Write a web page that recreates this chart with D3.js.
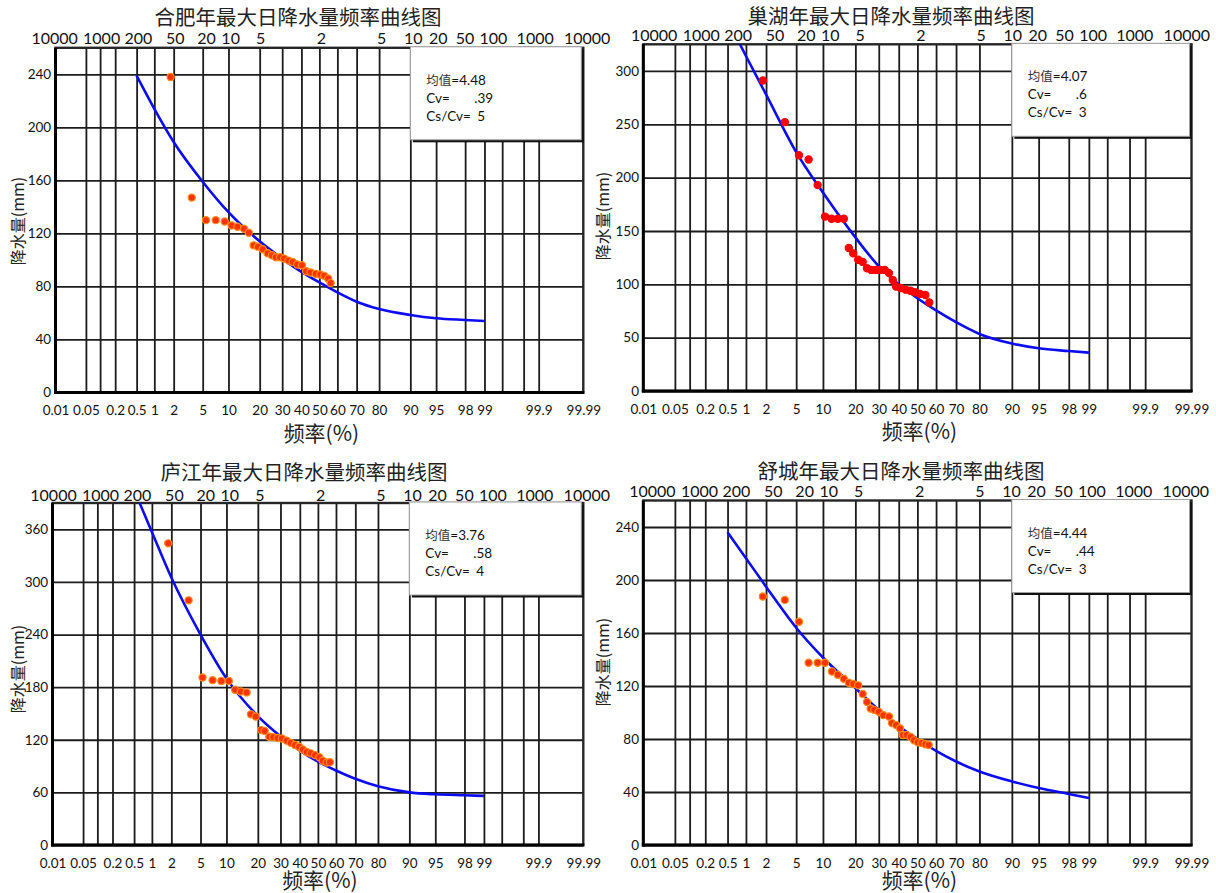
<!DOCTYPE html>
<html>
<head>
<meta charset="utf-8">
<style>
  body { margin: 0; background: #fff; }
  svg { display: block; }
</style>
</head>
<body>
<svg id="chart" width="1216" height="893"></svg>
<script src="https://d3js.org/d3.v7.min.js"></script>
<script>
// ---- axis definitions (probability paper) ----
var gridProbs = [0.05, 0.1, 0.2, 0.5, 1, 2, 5, 10, 20, 30, 40, 50, 60, 70, 80, 90, 95, 98, 99, 99.5, 99.8, 99.9];
var bottomProbs = [0.01, 0.05, 0.2, 0.5, 1, 2, 5, 10, 20, 30, 40, 50, 60, 70, 80, 90, 95, 98, 99, 99.9, 99.99];
var bottomLabels = ["0.01", "0.05", "0.2", "0.5", "1", "2", "5", "10", "20", "30", "40", "50", "60", "70", "80", "90", "95", "98", "99", "99.9", "99.99"];
var topProbs = [0.01, 0.1, 0.5, 2, 5, 10, 20, 50, 80, 90, 95, 98, 99, 99.9, 99.99];
var topLabels = ["10000", "1000", "200", "50", "20", "10", "5", "2", "5", "10", "20", "50", "100", "1000", "10000"];

// ---- 合肥 ----
var hefeiTitle = "合肥年最大日降水量频率曲线图";
var hefeiTicks = [0, 40, 80, 120, 160, 200, 240];
var hefeiStats = ["4.48", ".39", "5"];
var hefeiPointP = [1.8, 3.6, 5.5, 7.2, 9.1, 10.8, 12.4, 14.4, 16.0, 17.7, 19.3, 21.2, 23.3, 25.2, 27.0, 29.0, 31.0, 33.2, 35.3, 37.7, 40.3, 42.6, 45.1, 48.0, 50.5, 52.7, 54.9, 56.3];
var hefeiPointV = [238, 147, 130, 130, 129, 126, 125, 123.5, 120.5, 111, 110, 108, 105, 103.5, 102, 102, 101, 99.5, 98.5, 96.5, 96, 91.5, 90.5, 89.5, 89, 88, 86, 82.5];
var hefeiCurveP = [0.5, 1, 2, 5, 10, 20, 30, 40, 50, 60, 70, 80, 90, 95, 98, 99];
var hefeiCurveV = [239, 214, 189, 159, 136, 114, 101, 91, 83, 75.5, 68.5, 63, 58.5, 56, 54.7, 53.9];

// ---- 巢湖 ----
var chaohuTitle = "巢湖年最大日降水量频率曲线图";
var chaohuTicks = [0, 50, 100, 150, 200, 250, 300];
var chaohuStats = ["4.07", ".6", "3"];
var chaohuPointP = [1.8, 3.6, 5.4, 7.0, 8.8, 10.5, 12.2, 14.0, 15.9, 17.6, 19.2, 21.1, 22.9, 24.7, 26.6, 28.6, 30.7, 32.9, 35.0, 36.9, 38.6, 41.0, 43.7, 46.2, 48.7, 51.4, 54.3, 56.4];
var chaohuPointV = [291, 252, 221, 217, 193, 163.5, 161.5, 161.5, 161.5, 134, 129, 123, 121, 115, 113.5, 113.5, 113.5, 113.5, 110.5, 104, 98, 96.5, 95, 94, 92.5, 91, 90, 83];
var chaohuCurveP = [0.5, 1, 2, 5, 10, 20, 30, 40, 50, 60, 70, 80, 90, 95, 98, 99];
var chaohuCurveV = [348, 314, 278, 224, 186, 144, 117, 100, 87, 75.5, 64.5, 53.5, 44.5, 40, 37.5, 36];

// ---- 庐江 ----
var lujiangTitle = "庐江年最大日降水量频率曲线图";
var lujiangTicks = [0, 60, 120, 180, 240, 300, 360];
var lujiangStats = ["3.76", ".58", "4"];
var lujiangPointP = [1.8, 3.5, 5.3, 7.0, 8.8, 10.6, 12.3, 14.0, 15.9, 17.4, 19.2, 21.3, 22.8, 24.8, 26.6, 28.6, 30.7, 33.1, 35.2, 37.4, 39.6, 41.6, 43.8, 46.0, 48.4, 50.8, 52.7, 54.9, 56.7];
var lujiangPointV = [344, 279, 191, 188, 187, 187, 177, 175, 174, 149, 146.5, 131, 130, 123.5, 123, 122, 121.5, 119, 116.5, 114, 112, 109, 106, 104.5, 102.5, 100, 96, 94, 94.5];
var lujiangCurveP = [0.5, 1, 2, 5, 10, 20, 30, 40, 50, 60, 70, 80, 90, 95, 98, 99];
var lujiangCurveV = [405, 357, 305, 240, 190, 147, 124, 107.5, 95, 85, 75.5, 67, 60, 57.8, 56.7, 56];

// ---- 舒城 ----
var shuchengTitle = "舒城年最大日降水量频率曲线图";
var shuchengTicks = [0, 40, 80, 120, 160, 200, 240];
var shuchengStats = ["4.44", ".44", "3"];
var shuchengPointP = [1.8, 3.6, 5.4, 7.0, 8.8, 10.5, 12.3, 14.0, 15.9, 17.6, 19.2, 21.1, 22.9, 24.7, 26.3, 27.9, 30.0, 32.2, 35.0, 36.5, 38.6, 40.7, 42.1, 44.2, 46.4, 48.2, 50.2, 52.3, 54.3, 56.1];
var shuchengPointV = [187.5, 185, 168.5, 137.5, 137.5, 137.5, 131, 128.5, 125.5, 122.5, 121.5, 120.5, 114, 108, 103, 102, 100.5, 98, 97, 92, 90.5, 88, 83, 83, 81.5, 79, 77.5, 77, 76, 75.5];
var shuchengCurveP = [0.5, 1, 2, 5, 10, 20, 30, 40, 50, 60, 70, 80, 90, 95, 98, 99];
var shuchengCurveV = [236, 216.5, 195, 164, 141.5, 118.5, 102, 89.5, 80, 71, 63, 55.5, 48, 43, 38.5, 35.5];

// layout of the four plots (pixels); top labels sit on their own, slightly narrower strip
var topLabelNudge = [0, 2, 2, 1.5, 3.5, 1.5, 0, 0.5, 0.5, 0.5, -0.5, -3, 6, -7, 0];
var panels = [
  { id: 1, title: hefeiTitle, ticks: hefeiTicks, yMax: 260, stats: hefeiStats,
    pointP: hefeiPointP, pointV: hefeiPointV, curveP: hefeiCurveP, curveV: hefeiCurveV,
    left: 55.5, right: 583.3, top: 47.8, bottom: 392.5, topL: 54.1, topR: 586.7, topY: 43.5,
    titleX: 298, titleY: 25.2, xTitleY: 440.5, yTitleX: 23.5, yTitleY: 221,
    dot: "#ff3300", dotRim: "#ff8a1c" },
  { id: 2, title: chaohuTitle, ticks: chaohuTicks, yMax: 325, stats: chaohuStats,
    pointP: chaohuPointP, pointV: chaohuPointV, curveP: chaohuCurveP, curveV: chaohuCurveV,
    left: 643.3, right: 1191.5, top: 44.3, bottom: 391, topL: 653.7, topR: 1186.3, topY: 40.7,
    titleX: 891, titleY: 23.5, xTitleY: 438.5, yTitleX: 609, yTitleY: 216,
    dot: "#ff0000", dotRim: "#ff0000" },
  { id: 3, title: lujiangTitle, ticks: lujiangTicks, yMax: 390, stats: lujiangStats,
    pointP: lujiangPointP, pointV: lujiangPointV, curveP: lujiangCurveP, curveV: lujiangCurveV,
    left: 52.5, right: 583.3, top: 503, bottom: 845, topL: 53, topR: 586.3, topY: 500.5,
    titleX: 304, titleY: 480, xTitleY: 887.5, yTitleX: 23.5, yTitleY: 669,
    dot: "#ff3300", dotRim: "#ff8a1c" },
  { id: 4, title: shuchengTitle, ticks: shuchengTicks, yMax: 260, stats: shuchengStats,
    pointP: shuchengPointP, pointV: shuchengPointV, curveP: shuchengCurveP, curveV: shuchengCurveV,
    left: 643.3, right: 1191.5, top: 500.5, bottom: 845, topL: 651.9, topR: 1185.3, topY: 497.3,
    titleX: 901, titleY: 479.2, xTitleY: 887.5, yTitleX: 609, yTitleY: 662,
    dot: "#ff3300", dotRim: "#ff8a1c" }
];

var latin = "Lato, 'Noto Sans CJK SC', sans-serif";
var cjk = "'Noto Sans CJK SC', Lato, sans-serif";
var gridColor = "#1c1c1c";

// inverse normal CDF (Acklam) - used for the probability-paper x axis
function probit(p) {
  var a = [-3.969683028665376e+01, 2.209460984245205e+02, -2.759285104469687e+02, 1.383577518672690e+02, -3.066479806614716e+01, 2.506628277459239e+00];
  var b = [-5.447609879822406e+01, 1.615858368580409e+02, -1.556989798598866e+02, 6.680131188771972e+01, -1.328068155288572e+01];
  var c = [-7.784894002430293e-03, -3.223964580411365e-01, -2.400758277161838e+00, -2.549671010229420e+00, 4.374664141464968e+00, 2.938163982698783e+00];
  var d = [7.784695709041462e-03, 3.224671290700398e-01, 2.445134137142996e+00, 3.754408661907416e+00];
  var pl = 0.02425, q, r;
  if (p < pl) {
    q = Math.sqrt(-2 * Math.log(p));
    return (((((c[0]*q+c[1])*q+c[2])*q+c[3])*q+c[4])*q+c[5]) / ((((d[0]*q+d[1])*q+d[2])*q+d[3])*q+1);
  }
  if (p > 1 - pl) {
    q = Math.sqrt(-2 * Math.log(1 - p));
    return -(((((c[0]*q+c[1])*q+c[2])*q+c[3])*q+c[4])*q+c[5]) / ((((d[0]*q+d[1])*q+d[2])*q+d[3])*q+1);
  }
  q = p - 0.5; r = q * q;
  return (((((a[0]*r+a[1])*r+a[2])*r+a[3])*r+a[4])*r+a[5])*q / (((((b[0]*r+b[1])*r+b[2])*r+b[3])*r+b[4])*r+1);
}
function z(pct) { return probit(pct / 100); }

var svg = d3.select("#chart");

function drawPanel(cfg) {
  var g = svg.append("g");
  var w = cfg.right - cfg.left, h = cfg.bottom - cfg.top;
  var x = d3.scaleLinear().domain([z(0.01), z(99.99)]).range([cfg.left, cfg.right]);
  var xTop = d3.scaleLinear().domain([z(0.01), z(99.99)]).range([cfg.topL, cfg.topR]);
  var y = d3.scaleLinear().domain([0, cfg.yMax]).range([cfg.bottom, cfg.top]);

  g.append("clipPath").attr("id", "clip" + cfg.id)
    .append("rect").attr("x", cfg.left).attr("y", cfg.top).attr("width", w).attr("height", h);

  // horizontal grid + y labels
  var ya = g.append("g").attr("transform", "translate(" + cfg.left + ",0)")
    .call(d3.axisLeft(y).tickValues(cfg.ticks).tickSize(-w).tickPadding(4.3));
  ya.select(".domain").remove();
  ya.selectAll("line").attr("stroke", gridColor).attr("stroke-width", 1.8);
  ya.selectAll("text").attr("font-family", latin).attr("font-size", 13.5).attr("fill", "#111");

  // vertical grid
  var xg = g.append("g").attr("transform", "translate(0," + cfg.bottom + ")")
    .call(d3.axisBottom(x).tickValues(gridProbs.map(z)).tickSize(-h).tickFormat(""));
  xg.select(".domain").remove();
  xg.selectAll("line").attr("stroke", gridColor).attr("stroke-width", 1.8);

  // bottom probability labels
  var xb = g.append("g").attr("transform", "translate(0," + cfg.bottom + ")")
    .call(d3.axisBottom(x).tickValues(bottomProbs.map(z)).tickSize(0).tickPadding(13.4)
      .tickFormat(function (d, i) { return bottomLabels[i]; }));
  xb.select(".domain").remove();
  xb.selectAll("text").attr("font-family", latin).attr("font-size", 13.5).attr("fill", "#111");

  // top return-period labels
  var xt = g.append("g").attr("transform", "translate(0," + cfg.topY + ")")
    .call(d3.axisTop(xTop).tickValues(topProbs.map(z)).tickSize(0).tickPadding(0)
      .tickFormat(function (d, i) { return topLabels[i]; }));
  xt.select(".domain").remove();
  xt.selectAll("text").attr("font-family", latin).attr("font-size", 16).attr("fill", "#111")
    .attr("dx", function (d, i) { return topLabelNudge[i]; });

  // frame
  g.append("rect").attr("x", cfg.left).attr("y", cfg.top).attr("width", w).attr("height", h)
    .attr("fill", "none").attr("stroke", "#262626").attr("stroke-width", 2.4);
  g.append("line").attr("x1", cfg.left).attr("x2", cfg.left).attr("y1", cfg.top).attr("y2", cfg.bottom + 1.5)
    .attr("stroke", "#000").attr("stroke-width", 3);
  g.append("line").attr("x1", cfg.left - 1.5).attr("x2", cfg.right + 1).attr("y1", cfg.bottom).attr("y2", cfg.bottom)
    .attr("stroke", "#000").attr("stroke-width", 3);

  // statistics box
  var bx = x(z(90)), by = cfg.top - 1, bw = cfg.right - 2 - bx, bh = 93;
  g.append("rect").attr("x", bx + 2.5).attr("y", by + 2.5).attr("width", bw).attr("height", bh).attr("fill", "#111");
  g.append("rect").attr("x", bx).attr("y", by).attr("width", bw).attr("height", bh)
    .attr("fill", "#fff").attr("stroke", "#a0a0a0").attr("stroke-width", 1);
  var first = g.append("text").attr("x", bx + 16).attr("y", by + 38)
    .attr("font-family", latin).attr("font-size", 13.5).attr("fill", "#111");
  first.append("tspan").attr("font-family", cjk).attr("font-size", 12.5).attr("fill", "#333").text("均值");
  first.append("tspan").text("=" + cfg.stats[0]);
  var lab = ["Cv=", "Cs/Cv="];
  var off = [64, 67];
  for (var i = 0; i < 2; i++) {
    g.append("text").attr("x", bx + 16).attr("y", by + 56 + i * 18)
      .attr("font-family", latin).attr("font-size", 13.5).attr("fill", "#111").text(lab[i]);
    g.append("text").attr("x", bx + off[i]).attr("y", by + 56 + i * 18)
      .attr("font-family", latin).attr("font-size", 13.5).attr("fill", "#111").text(cfg.stats[i + 1]);
  }

  // fitted curve
  var line = d3.line()
    .x(function (d) { return x(z(d[0])); })
    .y(function (d) { return y(d[1]); })
    .curve(d3.curveMonotoneX);
  g.append("path")
    .datum(d3.zip(cfg.curveP, cfg.curveV))
    .attr("clip-path", "url(#clip" + cfg.id + ")")
    .attr("d", line)
    .attr("fill", "none").attr("stroke", "#0c0cf0").attr("stroke-width", 2.6);

  // observed points
  g.append("g").selectAll("circle")
    .data(d3.zip(cfg.pointP, cfg.pointV))
    .enter().append("circle")
    .attr("cx", function (d) { return x(z(d[0])); })
    .attr("cy", function (d) { return y(d[1]); })
    .attr("r", 3.6)
    .attr("fill", cfg.dot).attr("stroke", cfg.dotRim).attr("stroke-width", 1.2);

  // titles
  g.append("text").attr("x", cfg.titleX).attr("y", cfg.titleY).attr("text-anchor", "middle")
    .attr("font-family", cjk).attr("font-size", 20.5).attr("fill", "#222").text(cfg.title);
  g.append("text").attr("x", x(0) + 2).attr("y", cfg.xTitleY).attr("text-anchor", "middle")
    .attr("font-family", cjk).attr("font-size", 21).attr("fill", "#222").text("频率(%)");
  g.append("text").attr("text-anchor", "middle")
    .attr("transform", "translate(" + cfg.yTitleX + "," + cfg.yTitleY + ")rotate(-90)")
    .attr("font-family", cjk).attr("font-size", 16).attr("fill", "#222").text("降水量(mm)");
}

panels.forEach(drawPanel);
</script>
</body>
</html>
